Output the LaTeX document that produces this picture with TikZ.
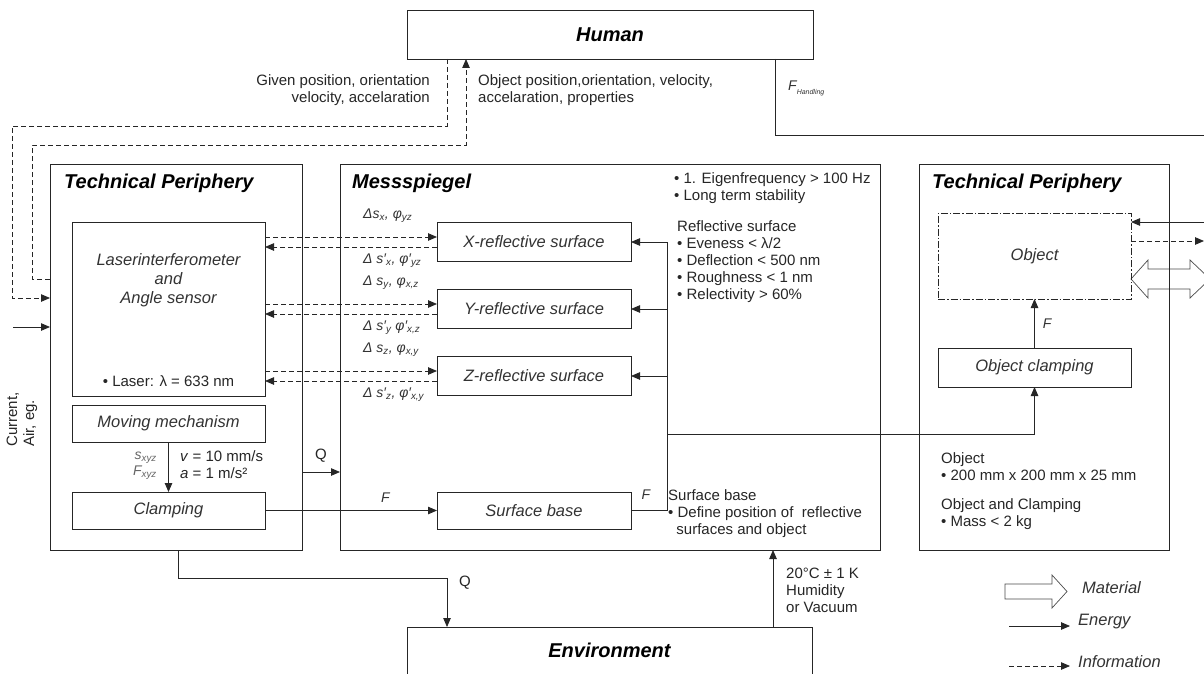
\documentclass[tikz,border=0pt]{standalone}
\usepackage{fontspec}
\setmainfont{Liberation Sans}
\usetikzlibrary{arrows.meta,calc}
\tikzset{
  box/.style={draw=black!85, line width=0.8pt, inner sep=0pt, outer sep=0pt},
  boxtext/.style={font=\fontsize{16.5}{19}\selectfont\itshape, text=black!80},
  title/.style={font=\fontsize{20}{22}\selectfont\bfseries\itshape, inner sep=0pt},
  note/.style={font=\fontsize{15}{17}\selectfont, text=black!85, inner sep=0pt, align=left},
  symb/.style={font=\fontsize{14}{16}\selectfont\itshape, text=black!80, inner sep=0pt},
  energy/.style={draw=black!85, line width=0.8pt},
  info/.style={energy, dash pattern=on 5pt off 3pt},
  matflow/.style={draw=black!70, line width=0.7pt}
}
\begin{document}
\begin{tikzpicture}[x=1pt,y=-1pt,>={Triangle[length=9pt,width=7.5pt]}]
\clip (0,0) rectangle (1204,674);
\fill[white] (0,0) rectangle (1204,674);

% main blocks
\node[box, title, minimum width=406pt, minimum height=49pt] (human) at (610,34.5) {Human};
\node[box, minimum width=252pt, minimum height=386pt] (tpl) at (176,357) {};
\node[title, anchor=west] (tpltitle) at (64,183) {Technical Periphery};
\node[box, minimum width=540pt, minimum height=386pt] (mess) at (610,357) {};
\node[title, anchor=west] (messtitle) at (352,183) {Messspiegel};
\draw[matflow] (1131,279) -- ++(17,-19) -- ++(0,9) -- ++(42,0) -- ++(0,-9) -- ++(20,19)
  -- ++(-20,19) -- ++(0,-9) -- ++(-42,0) -- ++(0,9) -- cycle;
\node[box, minimum width=250pt, minimum height=386pt] (tpr) at (1044,357) {};
\node[title, anchor=west] (tprtitle) at (932,183) {Technical Periphery};
\node[box, minimum width=405pt, minimum height=80pt, anchor=north] (env) at (609.5,627) {};
\node[title] (envtitle) at (609.5,650) {Environment};

% left periphery
\node[box, minimum width=193pt, minimum height=174pt] (laser) at (168.5,309) {};
\node[boxtext, align=center, inner sep=0pt] (lasertxt) at (168.5,280) {Laserinterferometer\\and\\Angle sensor};
\node[note] (lasernote) at (168.5,381) {• Laser: λ = 633 nm};
\node[box, boxtext, minimum width=193pt, minimum height=37pt] (moving) at (168.5,423.5) {Moving mechanism};
\node[box, boxtext, minimum width=193pt, minimum height=37pt] (clamp) at (168.5,510.5) {Clamping};
\draw[energy,->] (moving) -- (clamp);
\node[symb, align=right, anchor=east, text=black!60] (sxyz) at (157,466) {s\textsubscript{xyz}\\F\textsubscript{xyz}};
\node[note, anchor=west] (vel) at (180,465) {\textit{v} = 10 mm/s\\\textit{a} = 1 m/s²};

% mirror
\node[box, boxtext, minimum width=194pt, minimum height=39pt] (xref) at (534,242) {X-reflective surface};
\node[box, boxtext, minimum width=194pt, minimum height=39pt] (yref) at (534,309) {Y-reflective surface};
\node[box, boxtext, minimum width=194pt, minimum height=39pt] (zref) at (534,376) {Z-reflective surface};
\node[box, boxtext, minimum width=194pt, minimum height=37pt] (sbase) at (534,510.5) {Surface base};
\foreach \r in {xref,yref,zref}{
  \coordinate (up) at ([yshift=5pt]\r.west);
  \coordinate (dn) at ([yshift=-5pt]\r.west);
  \draw[info,->] (laser.east |- up) -- (up);
  \draw[info,->] (dn) -- (laser.east |- dn);
}
\node[symb, anchor=west] (dx1) at (363,216) {Δs\textsubscript{x}, φ\textsubscript{yz}};
\node[symb, anchor=west] (dx2) at (363,261) {Δ s′\textsubscript{x}, φ′\textsubscript{yz}};
\node[symb, anchor=west] (dy1) at (363,283) {Δ s\textsubscript{y}, φ\textsubscript{x,z}};
\node[symb, anchor=west] (dy2) at (363,328) {Δ s′\textsubscript{y} φ′\textsubscript{x,z}};
\node[symb, anchor=west] (dz1) at (363,350) {Δ s\textsubscript{z}, φ\textsubscript{x,y}};
\node[symb, anchor=west] (dz2) at (363,395) {Δ s′\textsubscript{z}, φ′\textsubscript{x,y}};

\coordinate (bus) at (667,0);
\draw[energy,->] (sbase.east) -| (xref.east -| bus) -- (xref.east);
\draw[energy,->] (yref.east -| bus) -- (yref.east);
\draw[energy,->] (zref.east -| bus) -- (zref.east);
\draw[energy,->] (clamp.east) -- node[symb, pos=0.7, above=8pt] {F} (sbase.west);
\node[symb] (fbase) at (646,495) {F};
\draw[energy,->] ([yshift=-115pt]tpl.east) -- node[note, above=9pt] {Q} ([yshift=-115pt]mess.west);

\node[note, anchor=west] (mirrornote) at (674,188) {• 1. Eigenfrequency > 100 Hz\\• Long term stability};
\node[note, anchor=west] (reflnote) at (677,262) {Reflective surface\\• Eveness < λ/2\\• Deflection < 500 nm\\• Roughness < 1 nm\\• Relectivity > 60\%};
\node[note, anchor=west] (basenote) at (668,513.5) {Surface base\\• Define position of \ reflective\\\hspace*{0.55em}surfaces and object};

% right periphery
\node[box, boxtext, dash pattern=on 7pt off 2pt on 1.5pt off 2pt, minimum width=193pt, minimum height=86pt] (object) at (1034.5,256) {Object};
\node[box, boxtext, minimum width=193pt, minimum height=39pt] (oclamp) at (1034.5,367.5) {Object clamping};
\draw[energy,->] (oclamp) -- node[symb, right=8pt] {F} (object);
\draw[energy,->] (bus |- 0,434) -| (oclamp.south);
\coordinate (objin) at (1210,222);
\draw[energy,->] (objin) -- (object.east |- objin);
\coordinate (objout) at (1204,241);
\draw[info,->] (object.east |- objout) -- (objout);
\node[note, anchor=west] (objnote) at (941,467) {Object\\• 200 mm x 200 mm x 25 mm};
\node[note, anchor=west] (massnote) at (941,514.5) {Object and Clamping\\• Mass < 2 kg};

% human
\draw[info,->] (human.south -| 447,0) |- (12,126) |- (tpl.west |- 0,298);
\draw[info,->] (tpl.west |- 0,279) -| (32,145) -| (human.south -| 466,0);
\node[note, align=right, anchor=east] (givenlbl) at (430,90.5) {Given position, orientation\\velocity, accelaration};
\node[note, anchor=west] (objlbl) at (478,90.5) {Object position,orientation, velocity,\\accelaration, properties};
\draw[energy] (human.south -| 775,0) |- (1210,135);
\node[symb, anchor=west] (fhand) at (788,88) {F\raisebox{-4pt}{\fontsize{7}{7}\selectfont Handling}};

% supply and environment
\coordinate (supply) at (13,327);
\draw[energy,->] (supply) -- (tpl.west |- supply);
\node[note, rotate=90, anchor=west] (supplylbl) at (22,447) {Current,\\Air, eg.};
\coordinate (qturn) at (447,578);
\draw[energy,->] ([xshift=2pt]tpl.south) |- (qturn) -- (qturn |- env.north);
\node[note] (qenv) at (465,583) {Q};
\coordinate (envup) at (773,0);
\draw[energy,->] (env.north -| envup) -- (mess.south -| envup);
\node[note, anchor=west] (envnote) at (786,590) {20°C ± 1 K\\Humidity\\or Vacuum};

% legend
\draw[matflow] (1005,584) -- (1052,584) -- (1052,575) -- (1067,591.5) -- (1052,608) -- (1052,599) -- (1005,599) -- cycle;
\node[boxtext, anchor=west, inner sep=0pt] (legmat) at (1082,588) {Material};
\coordinate (lega) at (1009,626);
\coordinate (legb) at (1070,626);
\draw[energy,->] (lega) -- (legb);
\node[boxtext, anchor=west, inner sep=0pt] (legen) at (1078,622) {Energy};
\coordinate (legc) at (1009,666);
\coordinate (legd) at (1070,666);
\draw[info,->] (legc) -- (legd);
\node[boxtext, anchor=west, inner sep=0pt] (leginf) at (1078,662) {Information};
\end{tikzpicture}
\end{document}
